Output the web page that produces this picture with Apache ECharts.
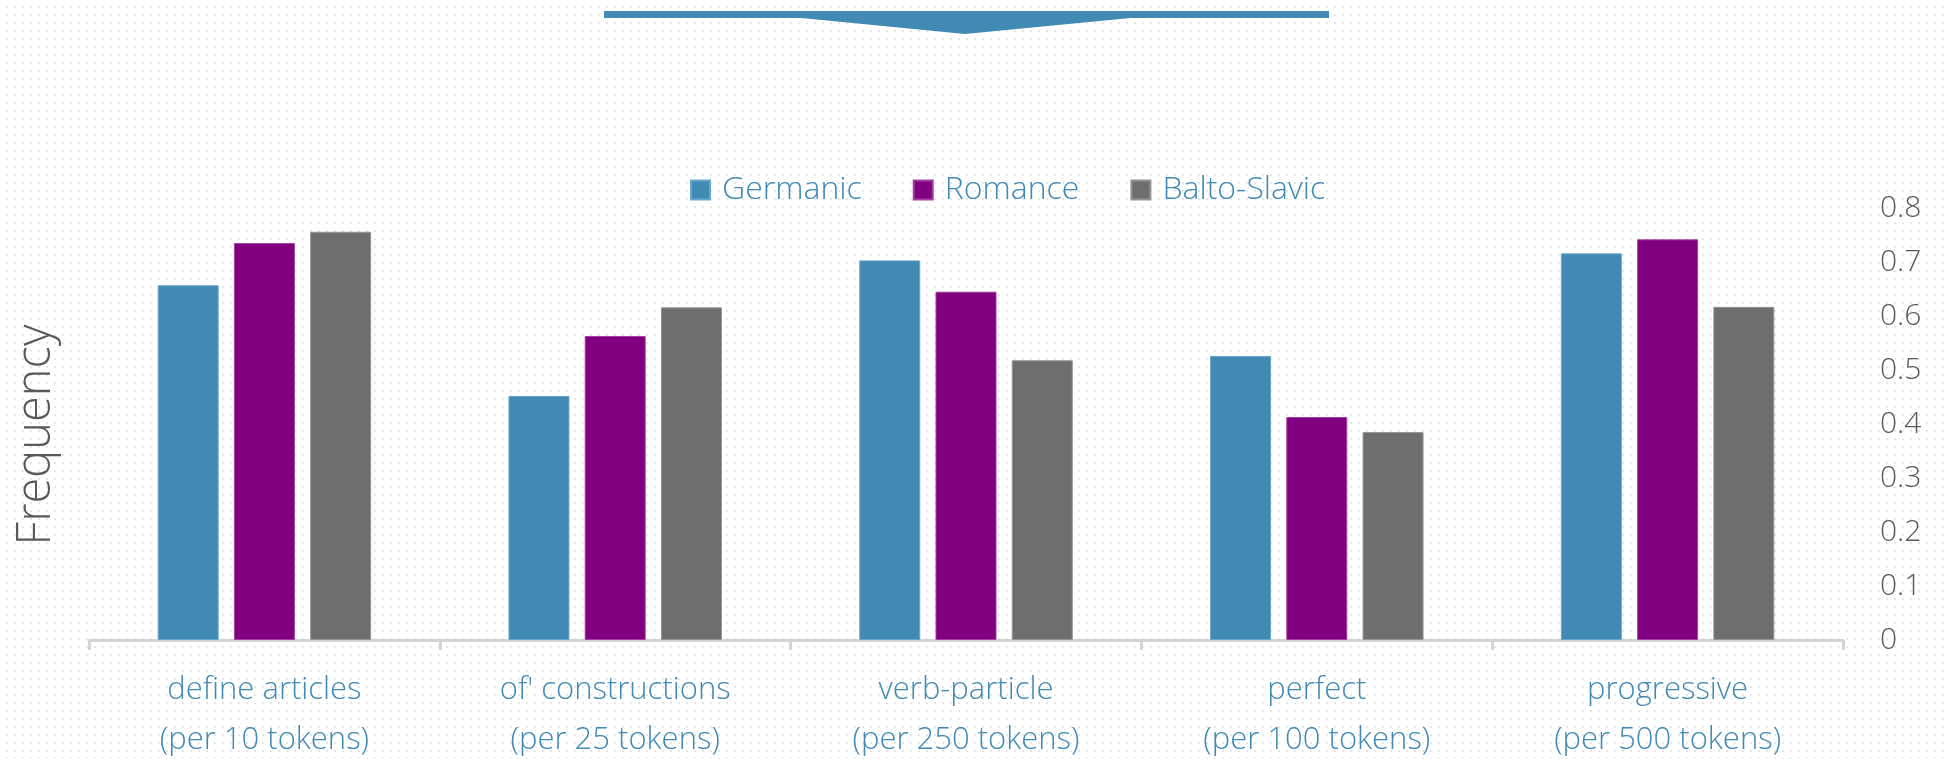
<!DOCTYPE html>
<html>
<head>
<meta charset="utf-8">
<script src="https://cdn.jsdelivr.net/npm/echarts@6/dist/echarts.min.js"></script>
<style>
html,body{margin:0;padding:0;}
body{background-color:#fff;background-image:radial-gradient(circle,#e6e6e6 1px,transparent 1.3px);background-size:8px 8px;background-position:3px 3px;}
#chart{width:1944px;height:759px;}
</style>
</head>
<body>
<div id="chart"></div>
<script>
const categories = ["define articles\n(per 10 tokens)", "of' constructions\n(per 25 tokens)", "verb-particle\n(per 250 tokens)", "perfect\n(per 100 tokens)", "progressive\n(per 500 tokens)"];
const germanic = [0.657, 0.452, 0.703, 0.526, 0.716];
const romance = [0.735, 0.563, 0.645, 0.413, 0.742];
const baltoSlavic = [0.756, 0.616, 0.518, 0.385, 0.617];
const yTicks = [0, 0.1, 0.2, 0.3, 0.4, 0.5, 0.6, 0.7, 0.8];

const FONT = '"Open Sans", "Noto Sans", sans-serif';
const chart = echarts.init(document.getElementById('chart'), null, {renderer: 'canvas'});
const mk = (name, data, color, border) => ({
  name, type: 'bar', data,
  barWidth: 61, barGap: '25%',
  itemStyle: {color, borderColor: border, borderWidth: 1},
  emphasis: {disabled: true}
});
chart.setOption({
  backgroundColor: 'transparent',
  animation: false,
  grid: {left: 89, right: 101, top: 208, bottom: 119, containLabel: false, outerBoundsMode: 'none'},
  legend: {
    left: 690, top: 174, padding: 0, itemWidth: 19, itemHeight: 19, itemGap: 51,
    icon: 'rect',
    textStyle: {color: '#418AB3', fontSize: 32, fontFamily: FONT, fontWeight: 300, padding: [0, 0, 0, 7]},
    data: ['Germanic', 'Romance', 'Balto-Slavic']
  },
  xAxis: {
    type: 'category', data: categories,
    axisLine: {show: true, lineStyle: {color: '#d4d4d4', width: 3}},
    axisTick: {show: true, length: 10, lineStyle: {color: '#d4d4d4', width: 3}},
    axisLabel: {color: '#418AB3', fontSize: 31, fontFamily: FONT, fontWeight: 300, lineHeight: 50, margin: 25, interval: 0}
  },
  yAxis: {
    type: 'value', position: 'right', min: 0, max: 0.8, interval: 0.1,
    axisLine: {show: false}, axisTick: {show: false}, splitLine: {show: false},
    axisLabel: {color: '#595959', fontSize: 30, fontFamily: FONT, fontWeight: 300, margin: 37,
      formatter: v => { const t = yTicks.find(x => Math.abs(x - v) < 1e-9); return t === 0 ? '0' : String(+v.toFixed(1)); }}
  },
  graphic: [
    {type: 'rect', shape: {x: 604, y: 11, width: 725, height: 7}, style: {fill: '#418AB3'}},
    {type: 'polygon', shape: {points: [[791, 17], [1141, 17], [965, 34]]}, style: {fill: '#418AB3'}},
    {type: 'text', x: 37, y: 435, rotation: Math.PI / 2,
      style: {text: 'Frequency', fill: '#595959', fontSize: 47, fontFamily: FONT, fontWeight: 300, align: 'center', verticalAlign: 'middle'}}
  ],
  series: [
    mk('Germanic', germanic, '#418AB3', '#6aa6c9'),
    mk('Romance', romance, '#800080', '#a040a0'),
    mk('Balto-Slavic', baltoSlavic, '#6E6E6E', '#949494')
  ]
});
</script>
</body>
</html>
